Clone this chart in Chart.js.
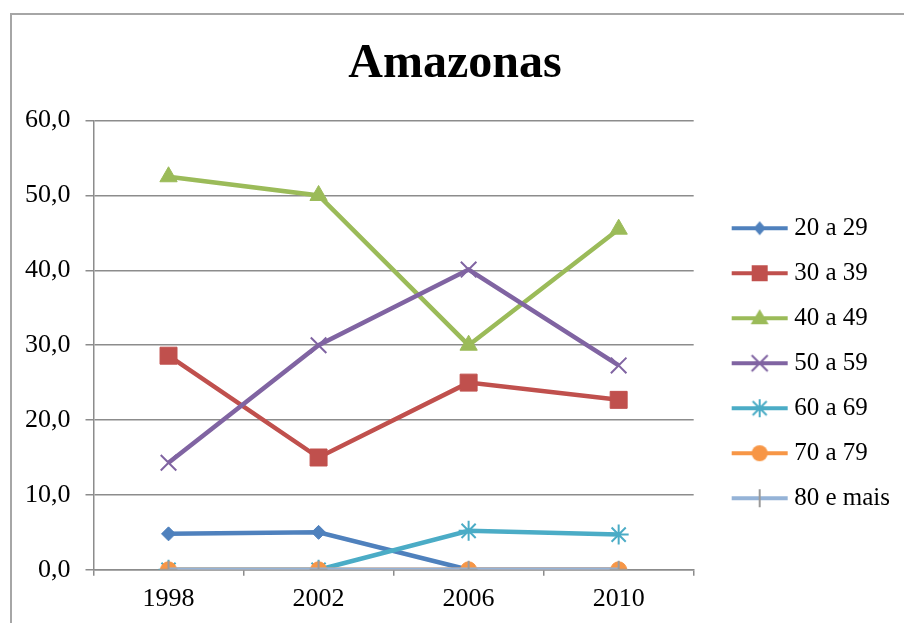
<!DOCTYPE html>
<html>
<head>
<meta charset="utf-8">
<script src="https://cdn.jsdelivr.net/npm/chart.js@4/dist/chart.umd.min.js"></script>
<style>
  html, body { margin: 0; padding: 0; background: #fff; overflow: hidden; }
  #wrap { position: relative; width: 904px; height: 623px; }
  #frame { position: absolute; left: 10px; top: 13px; width: 1000px; height: 700px;
           border-left: 2px solid #a6a6a6; border-top: 2px solid #a6a6a6; }
  canvas { position: absolute; left: 0; top: 0; }
</style>
</head>
<body>
<div id="wrap">
  <div id="frame"></div>
  <canvas id="chartAm" width="904" height="623"></canvas>
</div>
<script>
/* ---------- dados ---------- */
const anos = ['1998', '2002', '2006', '2010'];
const faixa20 = [4.8, 5.0, 0, 0];
const faixa30 = [28.6, 15.0, 25.0, 22.7];
const faixa40 = [52.5, 50.0, 30.0, 45.5];
const faixa50 = [14.3, 30.0, 40.1, 27.3];
const faixa60 = [0, 0, 5.2, 4.7];
const faixa70 = [0, 0, 0, 0];
const faixa80 = [0, 0, 0, 0];
const rotulos = ['20 a 29', '30 a 39', '40 a 49', '50 a 59', '60 a 69', '70 a 79', '80 e mais'];

/* ---------- estilo das series ---------- */
const estilos = [
  { cor: '#4F81BD', ponto: 'rectRot',  raio: 7,  borda: 1 },
  { cor: '#C0504D', ponto: 'rect',     raio: 12, borda: 1 },
  { cor: '#9BBB59', ponto: 'triangle', raio: 10, borda: 1 },
  { cor: '#8064A2', ponto: 'crossRot', raio: 11, borda: 2 },
  { cor: '#4BACC6', ponto: 'star',     raio: 10, borda: 2 },
  { cor: '#F79646', ponto: 'circle',   raio: 8,  borda: 1 },
  { cor: '#95B3D7', ponto: 'cross',    raio: 9,  borda: 2, corPonto: '#9a9a9a' }
];
const valores = [faixa20, faixa30, faixa40, faixa50, faixa60, faixa70, faixa80];

// icone da legenda: linha + marcador (canvas mais largo, desenho deslocado p/ direita)
function iconeLegenda(e) {
  const c = document.createElement('canvas');
  c.width = 84; c.height = 24;
  const g = c.getContext('2d');
  g.strokeStyle = e.cor; g.lineWidth = 4;
  g.beginPath(); g.moveTo(26, 12); g.lineTo(82, 12); g.stroke();
  g.fillStyle = e.corPonto || e.cor; g.strokeStyle = e.corPonto || e.cor;
  const x = 54, y = 12;
  g.beginPath();
  if (e.ponto === 'rectRot') {
    g.moveTo(x, y - 7); g.lineTo(x + 6, y); g.lineTo(x, y + 7); g.lineTo(x - 6, y); g.closePath(); g.fill();
  } else if (e.ponto === 'rect') {
    g.fillRect(x - 8, y - 8, 16, 16);
  } else if (e.ponto === 'triangle') {
    g.moveTo(x, y - 9); g.lineTo(x + 9, y + 6); g.lineTo(x - 9, y + 6); g.closePath(); g.fill();
  } else if (e.ponto === 'crossRot') {
    g.lineWidth = 2;
    g.moveTo(x - 8, y - 8); g.lineTo(x + 8, y + 8); g.moveTo(x + 8, y - 8); g.lineTo(x - 8, y + 8); g.stroke();
  } else if (e.ponto === 'star') {
    g.lineWidth = 2;
    g.moveTo(x - 7, y - 7); g.lineTo(x + 7, y + 7); g.moveTo(x + 7, y - 7); g.lineTo(x - 7, y + 7);
    g.moveTo(x, y - 9); g.lineTo(x, y + 9); g.stroke();
  } else if (e.ponto === 'circle') {
    g.arc(x, y, 8, 0, Math.PI * 2); g.fill();
  } else {
    g.lineWidth = 2;
    g.moveTo(x, y - 9); g.lineTo(x, y + 9); g.stroke();
  }
  return c;
}

const datasets = rotulos.map(function (r, i) {
  const e = estilos[i];
  return {
    label: r,
    data: valores[i],
    borderColor: e.cor,
    backgroundColor: e.corPonto || e.cor,
    pointBorderColor: e.corPonto || e.cor,
    borderWidth: 4.5,
    pointStyle: e.ponto,
    pointRadius: e.raio,
    pointBorderWidth: e.borda,
    tension: 0,
    order: rotulos.length - i
  };
});

const fonteSerif = "'Liberation Serif', 'Times New Roman', serif";

const ctx = document.getElementById('chartAm').getContext('2d');
new Chart(ctx, {
  type: 'line',
  data: { labels: anos, datasets: datasets },
  options: {
    responsive: false,
    animation: false,
    devicePixelRatio: 1,
    layout: { padding: { left: 10, right: 4, top: 0, bottom: 0 } },
    plugins: {
      tooltip: { enabled: false },
      title: {
        display: true,
        text: 'Amazonas',
        color: '#000',
        font: { family: fonteSerif, size: 48, weight: 'bold' },
        padding: { top: 36, bottom: 27 }
      },
      legend: {
        position: 'right',
        fullSize: false,
        title: { display: true, text: ' ', font: { size: 10 }, padding: 12 },
        labels: {
          color: '#000',
          font: { family: fonteSerif, size: 25 },
          usePointStyle: true,
          pointStyleWidth: 68,
          boxHeight: 24,
          padding: 20,
          generateLabels: function () {
            return rotulos.map(function (r, i) {
              return {
                text: r,
                datasetIndex: i,
                pointStyle: iconeLegenda(estilos[i]),
                fillStyle: estilos[i].cor,
                strokeStyle: estilos[i].cor,
                lineWidth: 0,
                fontColor: '#000'
              };
            });
          }
        }
      }
    },
    scales: {
      x: {
        offset: true,
        grid: { display: true, drawOnChartArea: false, offset: true, tickLength: 6, color: '#8c8c8c', lineWidth: 1.5 },
        border: { display: true, color: '#8c8c8c', width: 1.5 },
        ticks: { color: '#000', font: { family: fonteSerif, size: 26 }, padding: 8, maxRotation: 0 }
      },
      y: {
        min: 0,
        max: 60,
        ticks: {
          stepSize: 10,
          color: '#000',
          font: { family: fonteSerif, size: 26 },
          padding: 15,
          callback: function (v) { return v.toFixed(1).replace('.', ','); }
        },
        grid: { color: '#8c8c8c', lineWidth: 1.5, tickLength: 8 },
        border: { display: true, color: '#8c8c8c', width: 1.5 }
      }
    }
  }
});
</script>
</body>
</html>
